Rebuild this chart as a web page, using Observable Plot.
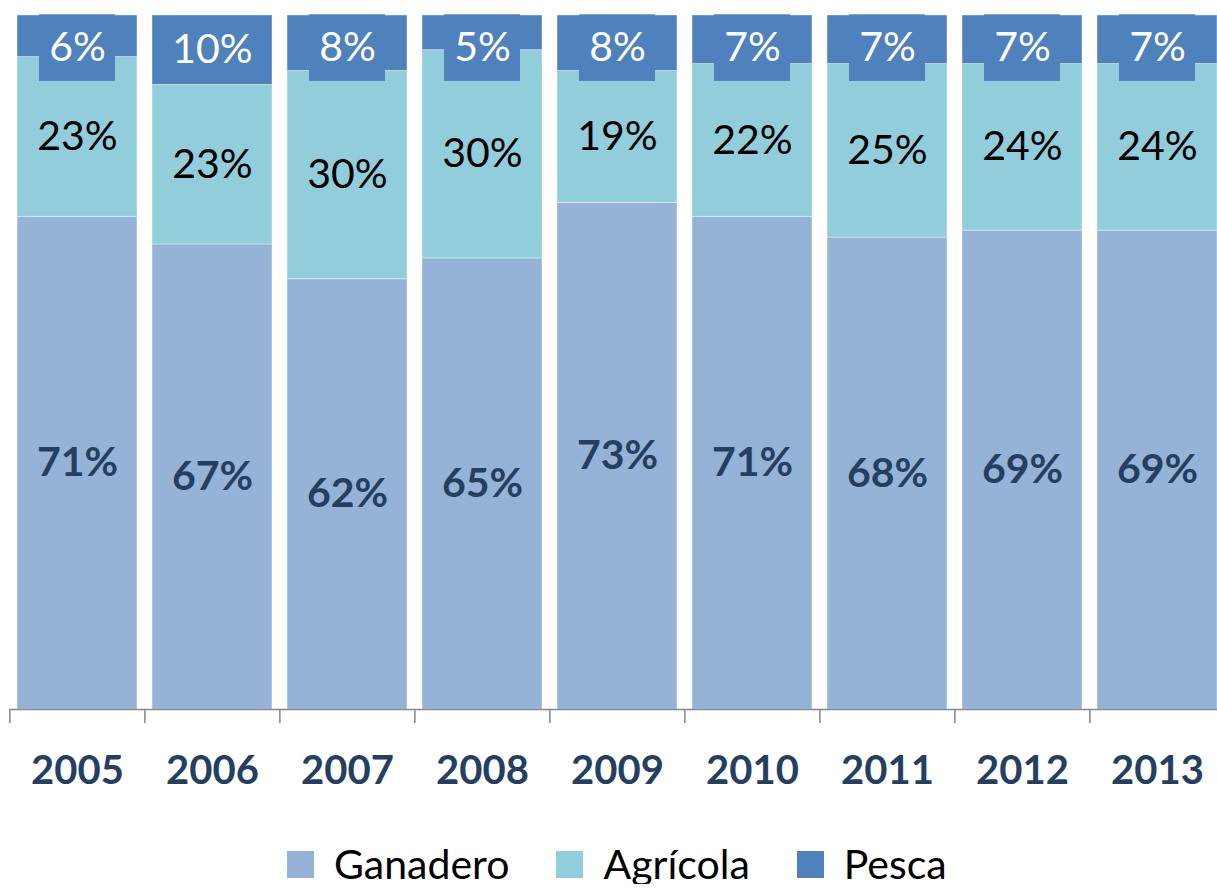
<!DOCTYPE html>
<html>
<head>
<meta charset="utf-8">
<script src="https://cdn.jsdelivr.net/npm/d3@7"></script>
<script src="https://cdn.jsdelivr.net/npm/@observablehq/plot@0.6"></script>
<style>
  html, body { margin: 0; padding: 0; background: #fff; overflow: hidden; }
  #chart svg { display: block; overflow: hidden; }
  #legend { display: flex; align-items: center; margin-top: 44px; padding-left: 287px;
            font-family: Lato, "Open Sans", sans-serif; font-size: 41px; line-height: 40px; height: 40px; color: #000; }
  .item { display: flex; align-items: center; margin-right: 47px; }
  .sw { width: 27px; height: 27px; margin-right: 20px; }
</style>
</head>
<body>
<div id="chart"></div>
<div id="legend"></div>
<script>
const years = ["2005", "2006", "2007", "2008", "2009", "2010", "2011", "2012", "2013"];
const ganadero = [71, 67, 62, 65, 73, 71, 68, 69, 69];
const agricola = [23, 23, 30, 30, 19, 22, 25, 24, 24];
const pesca = [6, 10, 8, 5, 8, 7, 7, 7, 7];
const seriesNames = ["Ganadero", "Agrícola", "Pesca"];
const seriesColors = ["#95B3D7", "#92CDDC", "#4F81BD"];

const values = [ganadero, agricola, pesca];
const rows = [];
years.forEach((yr, i) => {
  let acc = 0;
  seriesNames.forEach((s, k) => {
    const v = values[k][i];
    rows.push({year: yr, serie: s, value: v, y1: acc, y2: acc + v});
    acc += v;
  });
});
const pescaRows = rows.filter(d => d.serie === "Pesca").map(d => {
  const ly = Math.min((d.y1 + d.y2) / 2, 95.3);
  return {...d, ly};
});

const W = 1217, H = 800, ML = 9, MR = -9;
const step = (W - MR - ML) / years.length;
const font = "Lato, 'Open Sans', sans-serif";

const chart = Plot.plot({
  width: W,
  height: H,
  marginLeft: ML,
  marginRight: MR,
  marginTop: 15,
  marginBottom: 91,
  style: {fontFamily: font, background: "#fff", overflow: "hidden"},
  x: {type: "band", domain: years, paddingInner: 0.11, paddingOuter: 0.055, axis: null},
  y: {domain: [0, 100], axis: null},
  color: {domain: seriesNames, range: seriesColors},
  marks: [
    Plot.barY(rows, {x: "year", y1: "y1", y2: "y2", fill: "serie", stroke: "#fff", strokeWidth: 0.8, strokeOpacity: 0.5}),
    Plot.barY(pescaRows, {x: "year", y1: d => d.ly - 4.8, y2: d => d.ly + 4.8, fill: "serie", insetLeft: 22, insetRight: 22}),
    Plot.ruleY([0], {stroke: "#868686", strokeWidth: 1.5}),
    Plot.ruleX(years, {x: d => d, y1: 0, y2: -2.0, dx: -step / 2, stroke: "#868686", strokeWidth: 1.5}),
    Plot.ruleX([years[years.length - 1]], {x: d => d, y1: 0, y2: -2.0, dx: step / 2, stroke: "#868686", strokeWidth: 1.5}),
    Plot.text(rows.filter(d => d.serie === "Ganadero"), {x: "year", y: d => (d.y1 + d.y2) / 2, text: d => d.value + "%", fontSize: 41, fontWeight: "bold", fill: "#243F60"}),
    Plot.text(rows.filter(d => d.serie === "Agrícola"), {x: "year", y: d => (d.y1 + d.y2) / 2, text: d => d.value + "%", fontSize: 41, fill: "#000"}),
    Plot.text(pescaRows, {x: "year", y: "ly", text: d => d.value + "%", fontSize: 41, fill: "#fff"}),
    Plot.text(years, {x: d => d, y: 0, dy: 62, text: d => d, fontSize: 40, fontWeight: "bold", fill: "#243F60"})
  ]
});
document.getElementById("chart").appendChild(chart);

const legend = document.getElementById("legend");
seriesNames.forEach((s, k) => {
  const it = document.createElement("div");
  it.className = "item";
  const sw = document.createElement("div");
  sw.className = "sw";
  sw.style.background = seriesColors[k];
  const tx = document.createElement("span");
  tx.textContent = s;
  it.appendChild(sw);
  it.appendChild(tx);
  legend.appendChild(it);
});
</script>
</body>
</html>
